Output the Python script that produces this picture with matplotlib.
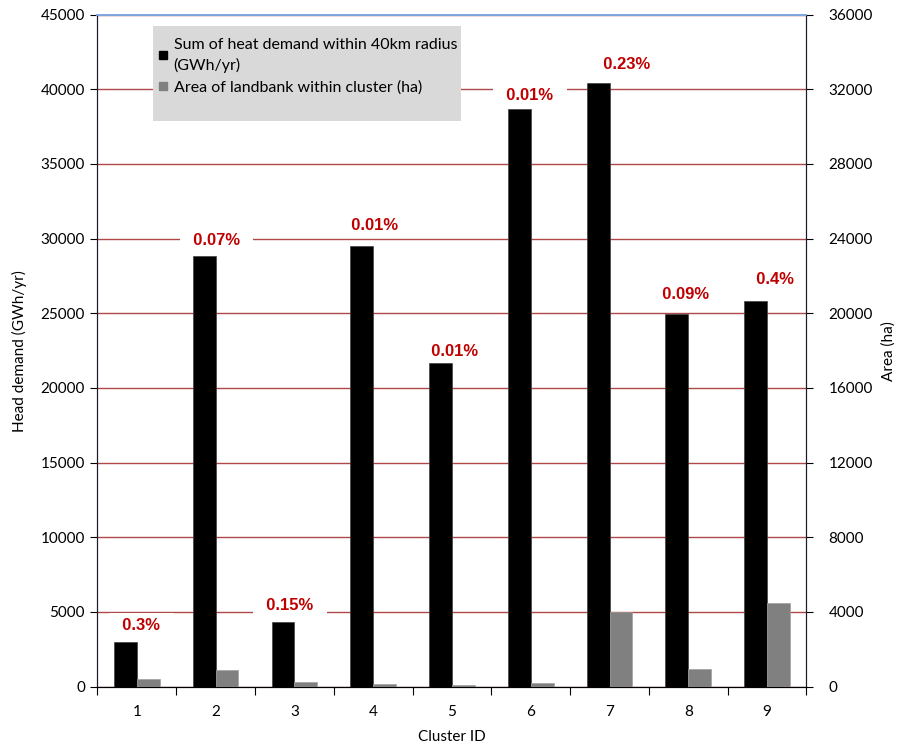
import numpy as np
import matplotlib.pyplot as plt
from matplotlib.patches import Rectangle
from matplotlib.lines import Line2D

clusters = ['1', '2', '3', '4', '5', '6', '7', '8', '9']
heat_demand = [2950, 28850, 4300, 29500, 21650, 38650, 40400, 24950, 25850]   # GWh/yr
landbank_area = [410, 870, 260, 110, 100, 190, 4000, 940, 4450]               # ha
pct_labels = ['0.3%', '0.07%', '0.15%', '0.01%', '0.01%', '0.01%', '0.23%', '0.09%', '0.4%']
# label positions (x in cluster index, y in GWh/yr)
label_x = [0.06, 1.01, 1.94, 3.02, 4.04, 4.99, 6.22, 6.97, 8.10]
label_y = [4120, 29860, 5460, 30910, 22430, 39580, 41680, 26290, 27230]

plt.rcParams['font.family'] = ['Lato', 'DejaVu Sans']
plt.rcParams['font.size'] = 11

fig = plt.figure(figsize=(9.01, 7.49), dpi=100)
ax = fig.add_axes([0.1082, 0.0834, 0.7869, 0.8970])
ax2 = ax.twinx()

x = np.arange(len(clusters))
w = 0.29
grid_col = '#b04848'

# grid
ax.set_axisbelow(True)
ax.yaxis.grid(True, color=grid_col, linewidth=1.0)

# bars
ax.bar(x - w/2, heat_demand, width=w, color='black', edgecolor='#404040', linewidth=0.5, zorder=3)
ax2.bar(x + w/2, landbank_area, width=w, color='#808080', edgecolor='#a0a0a0', linewidth=0.5, zorder=3)

# percentage labels (white box hides grid but stays under bars)
for lx, ly, t in zip(label_x, label_y, pct_labels):
    ax.text(lx, ly, '  ' + t + '  ', ha='center', va='center', color='#c00000', fontsize=12,
            fontweight='bold', family=['Liberation Sans', 'DejaVu Sans'], zorder=2,
            bbox=dict(boxstyle='square,pad=0.25', facecolor='white', edgecolor='none'))

ax.set_xlim(-0.5, 8.5)
ax.set_ylim(0, 45000)
ax.set_yticks(np.arange(0, 45001, 5000))
ax2.set_ylim(0, 36000)
ax2.set_yticks(np.arange(0, 36001, 4000))

# x ticks at group boundaries, labels at centres
ax.set_xticks(np.arange(-0.5, 9, 1))
ax.set_xticklabels([])
ax.set_xticks(x, minor=True)
ax.set_xticklabels(clusters, minor=True)
ax.tick_params(axis='x', which='major', direction='out', length=6, color='black')
ax.tick_params(axis='x', which='minor', length=0, pad=13)
ax.tick_params(axis='y', direction='out', length=5, pad=4)
ax2.tick_params(axis='y', direction='out', length=5, pad=11)

for a in (ax, ax2):
    a.spines['top'].set_color('#7ea6e0')
    a.spines['top'].set_linewidth(1.2)
    a.spines['left'].set_color('#1a1a2a')
    a.spines['right'].set_color('#1a1a2a')
    a.spines['bottom'].set_color('black')

ax.set_ylabel('Head demand (GWh/yr)', labelpad=10)
ax2.set_ylabel('Area (ha)', labelpad=6)
ax.set_xlabel('Cluster ID', labelpad=8)

# legend on a grey panel
ax2.add_patch(Rectangle((0.078, 0.842), 0.435, 0.141, transform=ax2.transAxes,
                        facecolor='#d9d9d9', edgecolor='none', zorder=5))
handles = [Line2D([], [], marker='s', linestyle='none', color='black', markersize=6),
           Line2D([], [], marker='s', linestyle='none', color='#808080', markersize=6)]
leg = ax2.legend(handles, ['Sum of heat demand within 40km radius\n(GWh/yr)',
                           'Area of landbank within cluster (ha)'],
                 loc='upper left', bbox_to_anchor=(0.067, 0.985), frameon=False,
                 handlelength=0.6, handletextpad=0.35, labelspacing=0.45, borderpad=0.35,
                 fontsize=11.5)
for t in leg.get_texts():
    t.set_linespacing(1.45)
leg.set_zorder(6)

fig.savefig('out.png', dpi=100)
